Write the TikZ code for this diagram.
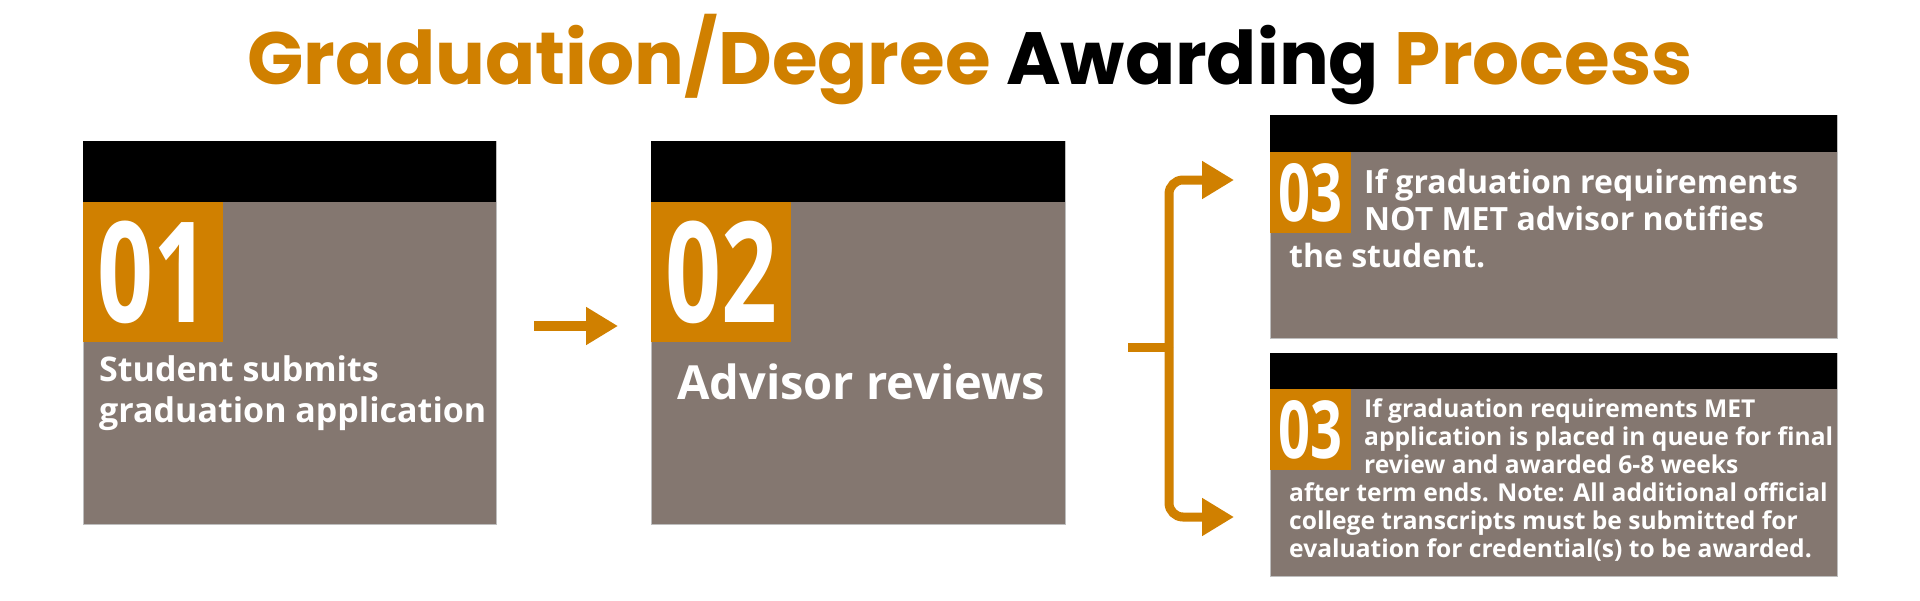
\documentclass[tikz,border=0pt]{standalone}
\usepackage{fontspec}
\setmainfont{Open Sans}
\newfontfamily\titlefont{Poppins}
\usetikzlibrary{arrows.meta, positioning, calc}
\definecolor{awardorange}{RGB}{208,128,0}
\definecolor{cardgrey}{RGB}{132,119,112}
\definecolor{edgegrey}{RGB}{190,190,190}
\newcommand{\stepnum}[2]{\scalebox{0.7}[1]{\fontsize{#1}{#1}\selectfont\bfseries #2}}

\begin{document}
\begin{tikzpicture}[
    x=1pt, y=-1pt,
    card/.style={draw=edgegrey, line width=1pt, fill=cardgrey, anchor=north west, inner sep=0pt, outer sep=0pt},
    band/.style={fill=black, anchor=north west, inner sep=0pt, outer sep=0pt},
    numbox/.style={fill=awardorange, anchor=north west, inner sep=0pt, outer sep=0pt, text=white},
    cardtext/.style={anchor=base west, inner sep=0pt, text=white, align=left},
    flow/.style={awardorange, line width=10pt, -{Triangle[length=32pt, width=36pt]}},
    fork/.style={awardorange, line width=9pt}
]
    \useasboundingbox (0,0) rectangle (1920,600);

    % Title
    \node[font=\titlefont\bfseries\fontsize{74}{74}\selectfont, anchor=base, inner sep=0pt] (title) at (970,84)
        {\textcolor{awardorange}{Graduation/Degree} Awarding \textcolor{awardorange}{Process}};

    % Step 01
    \node[card, minimum width=413pt, minimum height=383pt] (card1) at (83,141) {};
    \node[band, minimum width=413pt, minimum height=61pt] (band1) at (card1.north west) {};
    \node[numbox, minimum size=140pt] (num1) at (band1.south west) {\stepnum{140}{01}};
    \node[cardtext, font=\bfseries\fontsize{34}{41}\selectfont] (text1) at (99,422)
        {Student submits\\graduation application};

    % Step 02
    \node[card, minimum width=414pt, minimum height=383pt] (card2) at (651,141) {};
    \node[band, minimum width=414pt, minimum height=61pt] (band2) at (card2.north west) {};
    \node[numbox, minimum size=140pt] (num2) at (band2.south west) {\stepnum{140}{02}};
    \node[cardtext, font=\bfseries\fontsize{47}{47}\selectfont] (text2) at (677,399) {Advisor reviews};

    % Step 03, not met
    \node[card, minimum width=567pt, minimum height=223pt] (card3a) at (1270,115) {};
    \node[band, minimum width=567pt, minimum height=37pt] (band3a) at (card3a.north west) {};
    \node[numbox, minimum size=81pt] (num3a) at (band3a.south west) {\stepnum{80}{03}};
    \node[cardtext, font=\bfseries\fontsize{32}{37}\selectfont] (text3a) at (1364,230)
        {If graduation requirements\\NOT MET advisor notifies};
    \node[cardtext, font=\bfseries\fontsize{32}{37}\selectfont] (tail3a) at (1289,267) {the student.};

    % Step 03, met
    \node[card, minimum width=567pt, minimum height=223pt] (card3b) at (1270,353) {};
    \node[band, minimum width=567pt, minimum height=36pt] (band3b) at (card3b.north west) {};
    \node[numbox, minimum size=81pt] (num3b) at (band3b.south west) {\stepnum{80}{03}};
    \node[cardtext, font=\bfseries\fontsize{24.6}{27.6}\selectfont] (text3b) at (1364,473)
        {If graduation requirements MET\\application is placed in queue for final\\review and awarded 6-8 weeks};
    \node[cardtext, font=\bfseries\fontsize{24.6}{27.6}\selectfont] (tail3b) at (1289,557)
        {after term ends. Note: All additional official\\college transcripts must be submitted for\\evaluation for credential(s) to be awarded.};

    % Connectors
    \draw[flow] ($(card1.east)+(38,-6.5)$) -- ($(card2.west)+(-33,-6.5)$);
    \coordinate (split) at (1169,347);
    \draw[fork] ($(card2.east)+(63,14.5)$) -- (split);
    \draw[flow, line width=9pt, rounded corners=14pt] (split) |- ($(card3a.west)+(-36,-46.5)$);
    \draw[flow, line width=9pt, rounded corners=14pt] (split) |- ($(card3b.west)+(-36,52.5)$);
\end{tikzpicture}
\end{document}
